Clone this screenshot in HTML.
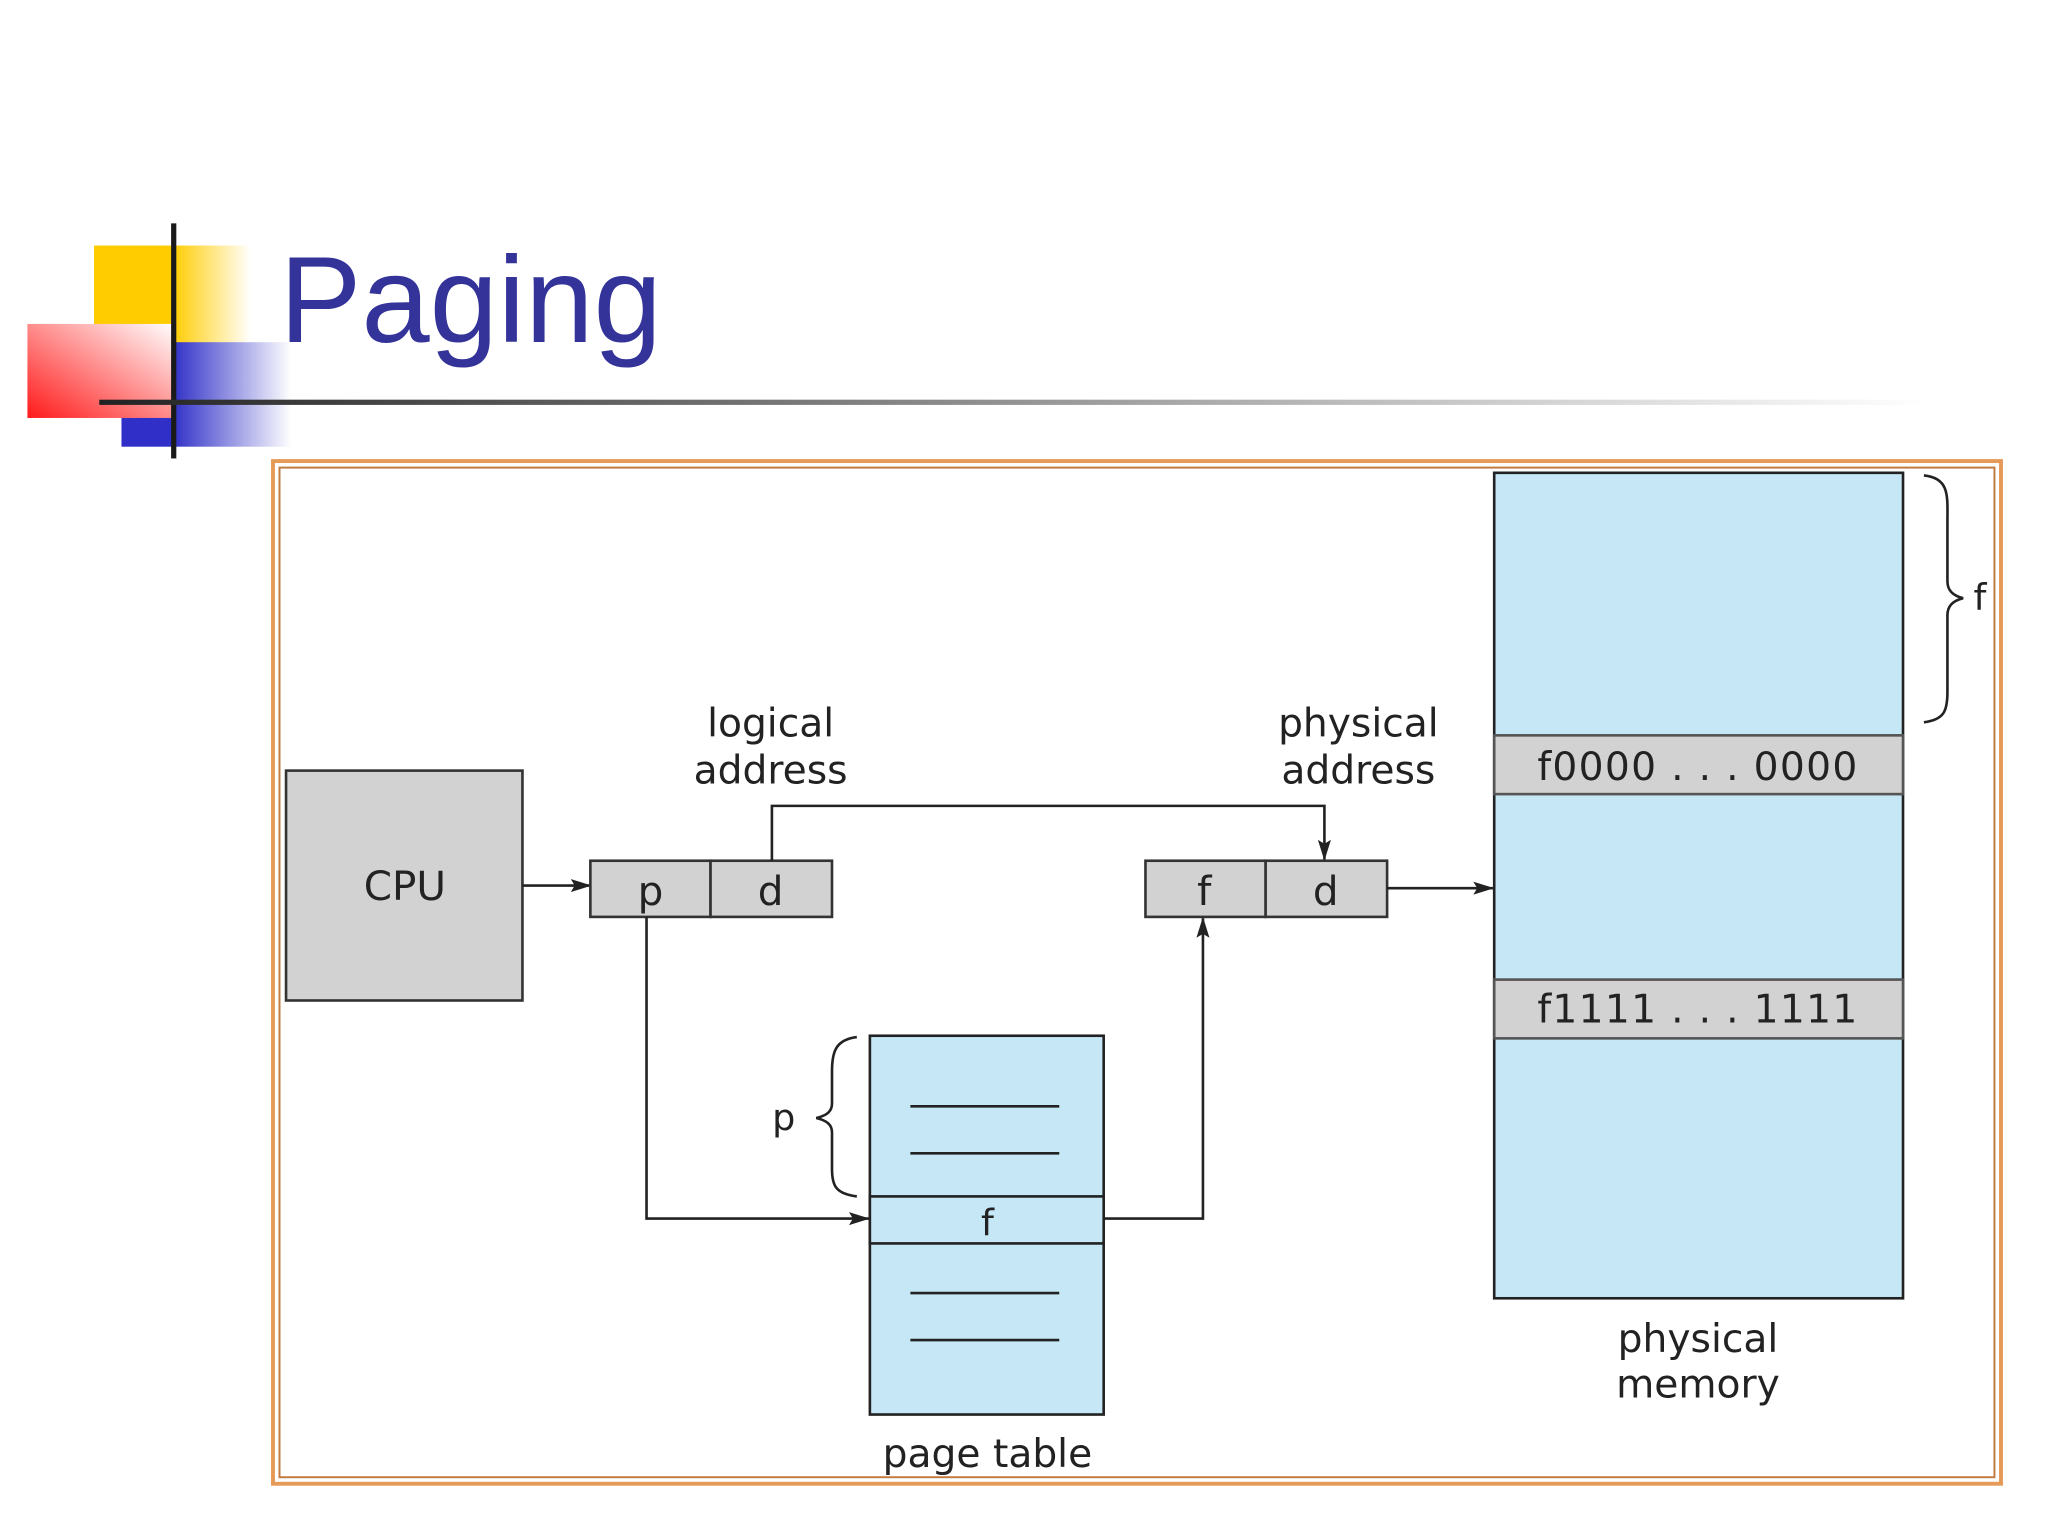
<!DOCTYPE html>
<html><head><meta charset="utf-8"><style>html,body{margin:0;padding:0;background:#fff}svg{display:block}</style></head><body>
<svg width="2048" height="1536" viewBox="0 0 1568 1176" xmlns="http://www.w3.org/2000/svg" font-family="DejaVu Sans, sans-serif">
<defs>
<linearGradient id="gy" x1="0" x2="1"><stop offset="0.5" stop-color="#ffcc00"/><stop offset="1" stop-color="#fff"/></linearGradient>
<linearGradient id="gb" x1="0" x2="1"><stop offset="0.3" stop-color="#3030c8"/><stop offset="1" stop-color="#fff"/></linearGradient>
<linearGradient id="gr" x1="0" y1="1" x2="1" y2="0"><stop offset="0" stop-color="#ff1a1a"/><stop offset="1" stop-color="#fff"/></linearGradient>
<linearGradient id="gl" x1="0" x2="1"><stop offset="0" stop-color="#222"/><stop offset="0.6" stop-color="#aaa"/><stop offset="1" stop-color="#fff"/></linearGradient>
<marker id="ar" markerWidth="16" markerHeight="12" refX="15" refY="6" orient="auto" markerUnits="userSpaceOnUse"><path d="M0,1 L16,6 L0,11 L3,6 Z" fill="#222"/></marker>
</defs>
<rect x="72" y="188" width="120" height="76" fill="url(#gy)"/>
<rect x="93" y="262" width="130" height="80" fill="url(#gb)"/>
<rect x="21" y="248" width="113" height="72" fill="url(#gr)"/>
<rect x="131" y="171" width="4" height="180" fill="#1a1a1a"/>
<rect x="76" y="306" width="1400" height="4" fill="url(#gl)"/>
<text x="214" y="262" font-size="94" fill="#333399" font-family="Liberation Sans, sans-serif">Paging</text>
<rect x="209" y="353" width="1323" height="783" fill="none" stroke="#e69a58" stroke-width="3"/>
<rect x="214" y="358" width="1313" height="773" fill="#fff" stroke="#c07a40" stroke-width="1.5"/>
<rect x="1144" y="362" width="313" height="632" fill="#c6e8f6" stroke="#222" stroke-width="2"/>
<rect x="1144" y="563" width="313" height="45" fill="#d2d2d2" stroke="#555" stroke-width="2"/>
<rect x="1144" y="750" width="313" height="45" fill="#d2d2d2" stroke="#555" stroke-width="2"/>
<text x="1300" y="597" font-size="30" text-anchor="middle" fill="#222" letter-spacing="1">f0000 . . . 0000</text>
<text x="1300" y="783" font-size="30" text-anchor="middle" fill="#222" letter-spacing="1">f1111 . . . 1111</text>
<path d="M1473,364 C1493,366 1491,380 1491,400 L1491,445 C1491,452 1495,456 1503,458 C1495,460 1491,464 1491,471 L1491,530 C1491,545 1488,551 1473,553" fill="none" stroke="#222" stroke-width="2"/>
<text x="1511" y="467" font-size="28" fill="#222">f</text>
<text x="1300" y="1035" font-size="30" text-anchor="middle" fill="#222">physical</text>
<text x="1300" y="1070" font-size="30" text-anchor="middle" fill="#222">memory</text>
<rect x="219" y="590" width="181" height="176" fill="#d2d2d2" stroke="#333" stroke-width="2"/>
<text x="310" y="689" font-size="31" text-anchor="middle" fill="#222">CPU</text>
<line x1="400" y1="678" x2="452" y2="678" stroke="#222" stroke-width="2" marker-end="url(#ar)"/>
<rect x="452" y="659" width="92" height="43" fill="#d2d2d2" stroke="#333" stroke-width="2"/>
<rect x="544" y="659" width="93" height="43" fill="#d2d2d2" stroke="#333" stroke-width="2"/>
<text x="498" y="693" font-size="31" text-anchor="middle" fill="#222">p</text>
<text x="590" y="693" font-size="31" text-anchor="middle" fill="#222">d</text>
<text x="590" y="564" font-size="30" text-anchor="middle" fill="#222">logical</text>
<text x="590" y="600" font-size="30" text-anchor="middle" fill="#222">address</text>
<rect x="877" y="659" width="92" height="43" fill="#d2d2d2" stroke="#333" stroke-width="2"/>
<rect x="969" y="659" width="93" height="43" fill="#d2d2d2" stroke="#333" stroke-width="2"/>
<text x="922" y="693" font-size="31" text-anchor="middle" fill="#222">f</text>
<text x="1015" y="693" font-size="31" text-anchor="middle" fill="#222">d</text>
<text x="1040" y="564" font-size="30" text-anchor="middle" fill="#222">physical</text>
<text x="1040" y="600" font-size="30" text-anchor="middle" fill="#222">address</text>
<polyline points="591,659 591,617 1014,617 1014,658" fill="none" stroke="#222" stroke-width="2" marker-end="url(#ar)"/>
<line x1="1062" y1="680" x2="1143" y2="680" stroke="#222" stroke-width="2" marker-end="url(#ar)"/>
<rect x="666" y="793" width="179" height="290" fill="#c6e8f6" stroke="#222" stroke-width="2"/>
<rect x="666" y="916" width="179" height="36" fill="#c6e8f6" stroke="#222" stroke-width="2"/>
<text x="756" y="946" font-size="28" text-anchor="middle" fill="#222">f</text>
<g stroke="#222" stroke-width="2"><line x1="697" y1="847" x2="811" y2="847"/><line x1="697" y1="883" x2="811" y2="883"/><line x1="697" y1="990" x2="811" y2="990"/><line x1="697" y1="1026" x2="811" y2="1026"/></g>
<text x="756" y="1123" font-size="30" text-anchor="middle" fill="#222">page table</text>
<path d="M656,794 C640,796 637,805 637,820 L637,845 C637,851 633,854 625,856 C633,858 637,861 637,867 L637,895 C637,908 640,914 656,916" fill="none" stroke="#222" stroke-width="2"/>
<text x="600" y="865" font-size="28" text-anchor="middle" fill="#222">p</text>
<polyline points="495,702 495,933 665,933" fill="none" stroke="#222" stroke-width="2" marker-end="url(#ar)"/>
<polyline points="845,933 921,933 921,703" fill="none" stroke="#222" stroke-width="2" marker-end="url(#ar)"/>
</svg>
</body></html>
